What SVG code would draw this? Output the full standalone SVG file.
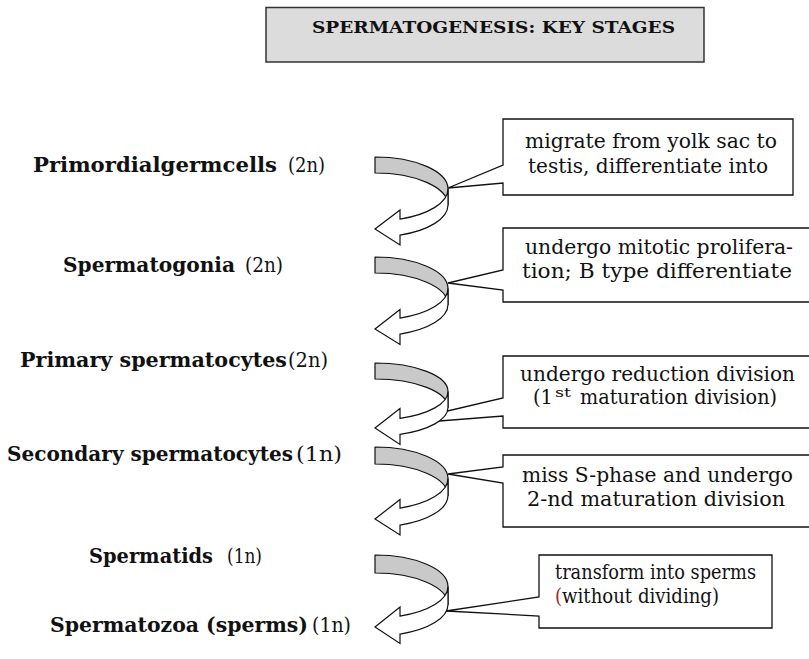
<svg xmlns="http://www.w3.org/2000/svg" width="809" height="659" viewBox="0 0 809 659">
<style>
.lbl{font-family:"DejaVu Serif","Liberation Serif",serif;font-weight:bold;font-size:20px;fill:#111}
.pl{font-family:"DejaVu Serif","Liberation Serif",serif;font-size:20px;fill:#111}
.bt{font-family:"DejaVu Serif","Liberation Serif",serif;font-size:19.5px;fill:#111}
.sup{font-family:"DejaVu Serif","Liberation Serif",serif;font-size:13px;fill:#111}
.ttl{font-family:"DejaVu Serif","Liberation Serif",serif;font-weight:bold;font-size:17.5px;fill:#111}
.call{fill:#fff;stroke:#111;stroke-width:1.3;stroke-linejoin:miter}
.back{fill:#c9c9c9;stroke:#111;stroke-width:1.2;stroke-linejoin:round}
.front{fill:#fff;stroke:#111;stroke-width:1.2;stroke-linejoin:miter}
</style>
<rect width="809" height="659" fill="#fff"/>
<g id="title">
<rect x="266" y="7.5" width="438" height="54.5" fill="#dcdcdc" stroke="#333" stroke-width="1.5"/>
<text class="ttl" x="312" y="33" textLength="363" lengthAdjust="spacingAndGlyphs">SPERMATOGENESIS: KEY STAGES</text>
</g>
<g id="stage-primordial">
<text class="lbl" x="33" y="172" textLength="244" lengthAdjust="spacingAndGlyphs">Primordialgermcells</text>
<text class="pl" x="288" y="172" textLength="37" lengthAdjust="spacingAndGlyphs">(2n)</text>
</g>
<g id="stage-spermatogonia">
<text class="lbl" x="63" y="272" textLength="172" lengthAdjust="spacingAndGlyphs">Spermatogonia</text>
<text class="pl" x="245" y="272" textLength="38" lengthAdjust="spacingAndGlyphs">(2n)</text>
</g>
<g id="stage-primary">
<text class="lbl" x="20" y="367" textLength="267" lengthAdjust="spacingAndGlyphs">Primary spermatocytes</text>
<text class="pl" x="288" y="367" textLength="40" lengthAdjust="spacingAndGlyphs">(2n)</text>
</g>
<g id="stage-secondary">
<text class="lbl" x="7" y="461" textLength="286" lengthAdjust="spacingAndGlyphs">Secondary spermatocytes</text>
<text class="pl" x="296" y="461" textLength="46" lengthAdjust="spacingAndGlyphs">(1n)</text>
</g>
<g id="stage-spermatids">
<text class="lbl" x="89" y="563" textLength="124" lengthAdjust="spacingAndGlyphs">Spermatids</text>
<text class="pl" x="227" y="563" textLength="35" lengthAdjust="spacingAndGlyphs">(1n)</text>
</g>
<g id="stage-spermatozoa">
<text class="lbl" x="50" y="632" textLength="258" lengthAdjust="spacingAndGlyphs">Spermatozoa (sperms)</text>
<text class="pl" x="312" y="632" textLength="39" lengthAdjust="spacingAndGlyphs">(1n)</text>
</g>
<g id="note-1">
<path class="call" d="M503,119 H793 V195 H503 V183 L448,188 L503,165 Z"/>
<text class="bt" x="525" y="148" textLength="252" lengthAdjust="spacingAndGlyphs">migrate from yolk sac to</text>
<text class="bt" x="528" y="173" textLength="240" lengthAdjust="spacingAndGlyphs">testis, differentiate into</text>
</g>
<g id="note-2">
<path class="call" d="M503,228 H812 V302 H503 V290 L448,283 L503,270 Z"/>
<text class="bt" x="525" y="254" textLength="268" lengthAdjust="spacingAndGlyphs">undergo mitotic prolifera-</text>
<text class="bt" x="522" y="278" textLength="270" lengthAdjust="spacingAndGlyphs">tion; B type differentiate</text>
</g>
<g id="note-3">
<path class="call" d="M503,356 H812 V428 H503 V416 L388,425 L503,398 Z"/>
<text class="bt" x="520" y="381" textLength="275" lengthAdjust="spacingAndGlyphs">undergo reduction division</text>
<text class="bt" x="533" y="404" textLength="20" lengthAdjust="spacingAndGlyphs">(1</text>
<text class="sup" x="555" y="397" textLength="16" lengthAdjust="spacingAndGlyphs">st</text>
<text class="bt" x="580" y="404" textLength="197" lengthAdjust="spacingAndGlyphs">maturation division)</text>
</g>
<g id="note-4">
<path class="call" d="M503,455 H812 V527 H503 V483 L448,474 L503,467 Z"/>
<text class="bt" x="522" y="482" textLength="271" lengthAdjust="spacingAndGlyphs">miss S-phase and undergo</text>
<text class="bt" x="527" y="506" textLength="258" lengthAdjust="spacingAndGlyphs">2-nd maturation division</text>
</g>
<g id="note-5">
<path class="call" d="M539,555 H772 V628 H539 V616 L446,611 L539,597 Z"/>
<text class="bt" x="555" y="579" textLength="201" lengthAdjust="spacingAndGlyphs">transform into sperms</text>
<text class="bt" x="555" y="603" textLength="164" lengthAdjust="spacingAndGlyphs"><tspan fill="#9b2b2b">(</tspan>without dividing)</text>
</g>
<g id="connectors">
<g id="arrow-1">
<path class="back" d="M375,157 A73,32 0 0 1 448,189 L448,205 A73,32 0 0 0 375,173 Z"/>
<path class="front" d="M448,189 A73,32 0 0 1 400,219.1 L400,210 L375,229 L400,245 L400,235.1 A73,32 0 0 0 448,205 Z"/>
</g>
<g id="arrow-2">
<path class="back" d="M375,257 A73,31.5 0 0 1 448,288.5 L448,304.5 A73,31.5 0 0 0 375,273 Z"/>
<path class="front" d="M448,288.5 A73,31.5 0 0 1 400,318.1 L400,309.5 L375,329 L400,344.5 L400,334.1 A73,31.5 0 0 0 448,304.5 Z"/>
</g>
<g id="arrow-3">
<path class="back" d="M375,363 A73,28.5 0 0 1 448,391.5 L448,407.5 A73,28.5 0 0 0 375,379 Z"/>
<path class="front" d="M448,391.5 A73,28.5 0 0 1 400,418.3 L400,408.5 L375,428 L400,444.5 L400,434.3 A73,28.5 0 0 0 448,407.5 Z"/>
</g>
<g id="arrow-4">
<path class="back" d="M375,447 A73,31.5 0 0 1 448,478.5 L448,495.5 A73,31.5 0 0 0 375,464 Z"/>
<path class="front" d="M448,478.5 A73,31.5 0 0 1 400,508.1 L400,499.5 L375,519 L400,535 L400,525.1 A73,31.5 0 0 0 448,495.5 Z"/>
</g>
<g id="arrow-5">
<path class="back" d="M375,555 A73,31.5 0 0 1 448,586.5 L448,604.5 A73,31.5 0 0 0 375,573 Z"/>
<path class="front" d="M448,586.5 A73,31.5 0 0 1 400,616.1 L400,607 L375,627 L400,643.5 L400,634.1 A73,31.5 0 0 0 448,604.5 Z"/>
</g>
</g>
</svg>
